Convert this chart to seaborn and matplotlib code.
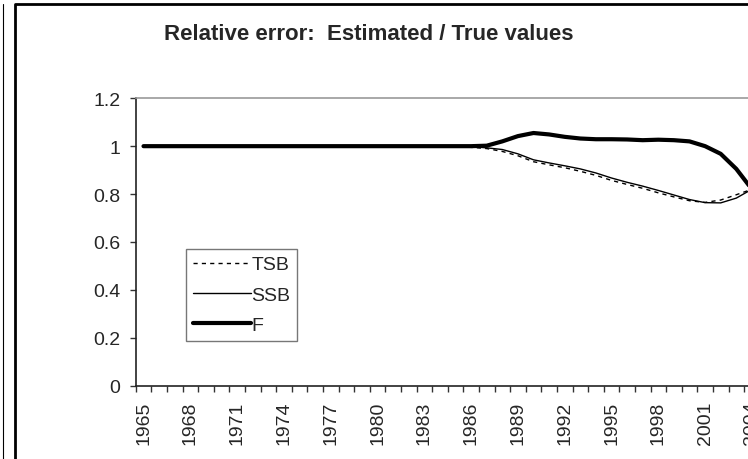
"""Relative error chart: estimated / true values."""

import matplotlib
matplotlib.use("Agg")
import matplotlib.pyplot as plt
import numpy as np
import pandas as pd
import seaborn as sns
from matplotlib.lines import Line2D
from matplotlib.ticker import FuncFormatter, MultipleLocator

years = list(range(1965, 2005))

# values, 1983 onwards; earlier years are 1.0
tsb_tail = [1.0, 1.0, 0.998, 0.995, 0.99, 0.978, 0.96, 0.935, 0.922, 0.91, 0.895,
            0.878, 0.857, 0.84, 0.824, 0.805, 0.788, 0.772, 0.765, 0.775, 0.797, 0.82]
ssb_tail = [1.0, 1.0, 1.0, 0.998, 0.993, 0.986, 0.968, 0.943, 0.930, 0.918, 0.905,
            0.888, 0.867, 0.849, 0.833, 0.815, 0.796, 0.777, 0.764, 0.763, 0.783, 0.82]
f_tail = [1.0, 1.0, 1.0, 1.0, 1.002, 1.02, 1.042, 1.055, 1.049, 1.039, 1.032,
          1.029, 1.029, 1.028, 1.025, 1.027, 1.025, 1.02, 1.0, 0.968, 0.905, 0.82]

n_head = len(years) - len(f_tail)
tsb = [1.0] * n_head + tsb_tail
ssb = [1.0] * n_head + ssb_tail
f_vals = [1.0] * n_head + f_tail

W, H = 748, 460

sns.set_style("white")
plt.rcParams["font.family"] = ["Liberation Sans", "DejaVu Sans"]

fig = plt.figure(figsize=(W / 100, H / 100), dpi=100)
ax = fig.add_axes([135.7 / W, 73.5 / H, 624 / W, 287.2 / H])

df = pd.DataFrame({"pos": np.arange(len(years)), "TSB": tsb, "SSB": ssb, "F": f_vals})

sns.lineplot(data=df, x="pos", y="TSB", color="black", lw=1.0, ls=(0, (3, 3)),
             label="TSB", ax=ax)
sns.lineplot(data=df, x="pos", y="SSB", color="black", lw=1.0, label="SSB", ax=ax)
sns.lineplot(data=df, x="pos", y="F", color="black", lw=3.0, label="F", ax=ax)

ax.set_xlim(-0.5, len(years) - 0.5)
ax.set_ylim(0, 1.2)
ax.set_xlabel("")
ax.set_ylabel("")

# category axis: ticks between years, labels every third year
ax.set_xticks(np.arange(0, len(years), 3))
ax.set_xticklabels([str(y) for y in years[::3]], rotation=90, fontsize=14)
ax.set_xticks(np.arange(-0.5, len(years), 1), minor=True)
ax.tick_params(axis="x", which="major", length=0, pad=11)
ax.tick_params(axis="x", which="minor", length=4.5, width=1, color="#333333",
               direction="out", bottom=True)

ax.yaxis.set_major_locator(MultipleLocator(0.2))
ax.yaxis.set_major_formatter(FuncFormatter(lambda v, _: f"{v:g}"))
ax.tick_params(axis="y", length=4.5, width=1, color="#333333", direction="out",
               left=True, labelsize=14, pad=6.5)

for side in ["left", "bottom"]:
    ax.spines[side].set_color("#222222")
    ax.spines[side].set_linewidth(1.2)
ax.spines["top"].set_color("#999999")
ax.spines["top"].set_linewidth(1.2)
ax.spines["right"].set_visible(False)

leg = ax.legend(loc="upper left", bbox_to_anchor=(186 / W, 1 - 250 / H),
                bbox_transform=fig.transFigure, frameon=True, fancybox=False,
                edgecolor="#555555", fontsize=14, handlelength=3.0,
                handletextpad=0.0, labelspacing=0.65, borderpad=0.35,
                borderaxespad=0)
leg.get_frame().set_linewidth(1.0)

fig.text(164 / W, 1 - 35 / H, "Relative error:  Estimated / True values",
         ha="left", va="center", fontsize=16, fontweight="bold")

# chart area borders
fig.add_artist(Line2D([2.7 / W, 2.7 / W], [0, 1 - 5 / H], color="black", lw=0.8))
fig.add_artist(Line2D([15 / W, 15 / W, 1], [0, 1 - 5 / H, 1 - 5 / H],
                      color="black", lw=2.0))

fig.savefig("out.png", dpi=100)
plt.close(fig)
